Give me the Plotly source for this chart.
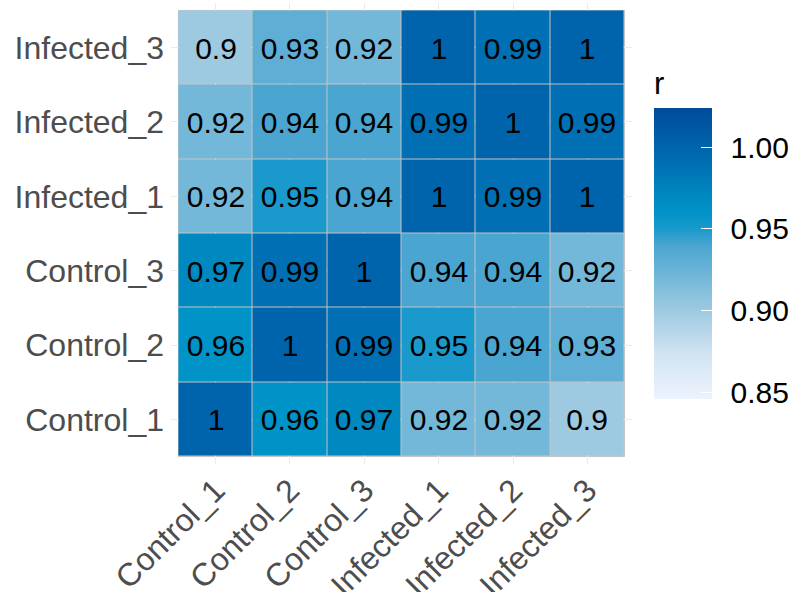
import plotly.graph_objects as go

# Sample labels (bottom-to-top on y, left-to-right on x)
samples = ["Control_1", "Control_2", "Control_3", "Infected_1", "Infected_2", "Infected_3"]

# Pairwise correlation coefficients, one row per sample
r_control_1 = [1, 0.96, 0.97, 0.92, 0.92, 0.9]
r_control_2 = [0.96, 1, 0.99, 0.95, 0.94, 0.93]
r_control_3 = [0.97, 0.99, 1, 0.94, 0.94, 0.92]
r_infected_1 = [0.92, 0.95, 0.94, 1, 0.99, 1]
r_infected_2 = [0.92, 0.94, 0.94, 0.99, 1, 0.99]
r_infected_3 = [0.9, 0.93, 0.92, 1, 0.99, 1]

z = [r_control_1, r_control_2, r_control_3, r_infected_1, r_infected_2, r_infected_3]
labels = [[f"{v:g}" for v in row] for row in z]

zmin, zmax = 0.846, 1.024
colorbar_ticks = [0.85, 0.90, 0.95, 1.00]


def stop(v):
    return (v - zmin) / (zmax - zmin)


colorscale = [
    [0.0, "#eef3fd"],
    [stop(0.875), "#cfe2f2"],
    [stop(0.90), "#9ecae1"],
    [stop(0.92), "#74b8d9"],
    [stop(0.94), "#4aa5d0"],
    [stop(0.95), "#1a9acc"],
    [stop(0.96), "#0093c8"],
    [stop(0.97), "#0089c1"],
    [stop(0.99), "#006fb3"],
    [stop(1.00), "#0064ad"],
    [1.0, "#004b99"],
]

font_family = "Liberation Sans, Arial, sans-serif"

# thin spaces push the colour-bar labels away from the bar
pad = "\u2009\u2009"

fig = go.Figure(
    go.Heatmap(
        x=samples,
        y=samples,
        z=z,
        text=labels,
        texttemplate="%{text}",
        textfont=dict(family=font_family, size=30, color="black"),
        zmin=zmin,
        zmax=zmax,
        colorscale=colorscale,
        xgap=1,
        ygap=1,
        colorbar=dict(
            title=dict(text="r", side="top", font=dict(family=font_family, size=31, color="black")),
            tickvals=colorbar_ticks,
            ticktext=[f"{pad}{t:.2f}" for t in colorbar_ticks],
            tickfont=dict(family=font_family, size=30, color="black"),
            ticks="inside",
            tickcolor="white",
            ticklen=11,
            tickwidth=1,
            thickness=58,
            thicknessmode="pixels",
            len=331,
            lenmode="pixels",
            x=1.0477,
            xanchor="left",
            xpad=0,
            y=0.5000,
            yanchor="middle",
            ypad=0,
            outlinewidth=0,
        ),
    )
)

# Grey backing so the tile gaps read as cell borders
n = len(samples)
fig.add_shape(
    type="rect",
    xref="x",
    yref="y",
    x0=-0.5,
    x1=n - 0.5,
    y0=-0.5,
    y1=n - 0.5,
    fillcolor="#c4c4c4",
    line=dict(color="#c4c4c4", width=1),
    layer="below",
)

axis_common = dict(
    showgrid=True,
    gridcolor="#ebebeb",
    gridwidth=1,
    zeroline=False,
    showline=False,
    ticks="",
    tickfont=dict(family=font_family, size=32, color="#4d4d4d"),
    range=[-0.6, n - 0.4],
)

fig.update_xaxes(**axis_common, tickangle=-45)
fig.update_yaxes(**axis_common, ticklabelstandoff=6)

fig.update_layout(
    width=795,
    height=592,
    margin=dict(l=171, r=163, t=3, b=128, autoexpand=False),
    paper_bgcolor="white",
    plot_bgcolor="white",
    font=dict(family=font_family),
)

fig.write_html("out.html")
